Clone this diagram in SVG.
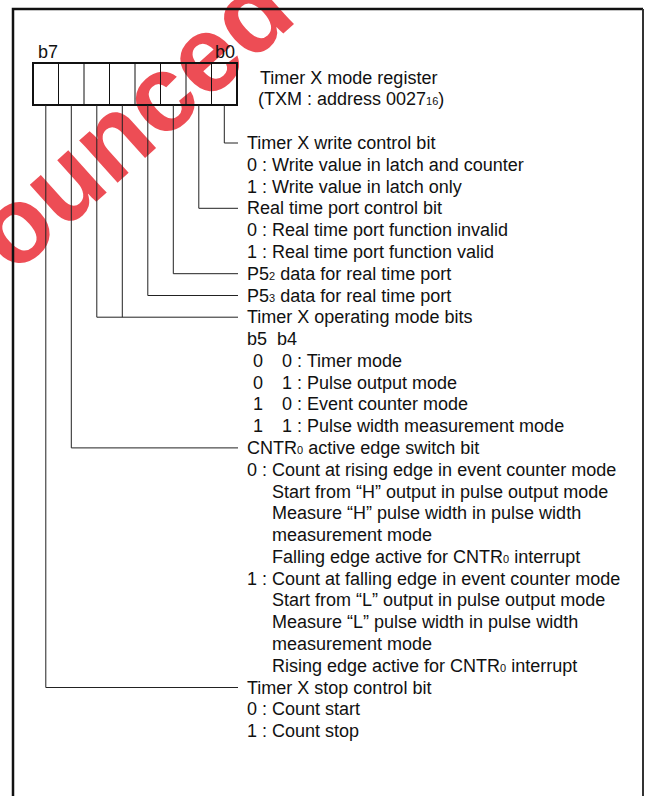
<svg xmlns="http://www.w3.org/2000/svg" width="645" height="796" viewBox="0 0 645 796">
<style>
text{font-family:"Liberation Sans",Arial,sans-serif;font-size:18px;fill:#111}
.sub{font-size:11px}
.wm{font-family:"Liberation Sans",Arial,sans-serif;font-weight:bold;font-size:108px;fill:#e8202a;fill-opacity:0.8}
.lead{fill:none;stroke:#222;stroke-width:1}
.cell{fill:none;stroke:#111;stroke-width:1}
</style>
<rect width="645" height="796" fill="#fff"/>
<g id="watermark"><text class="wm" transform="translate(14,276) rotate(-42)">ounced</text></g>
<g id="frame" fill="none" stroke="#111">
<path d="M13,796 V9 H643" stroke-width="2.5"/>
<path d="M643,9 V796" stroke-width="2" stroke="#333"/>
</g>
<g id="register">
<rect x="33" y="63" width="204" height="42" fill="none" stroke="#111" stroke-width="2"/>
<path class="cell" d="M58.5,63V105M84,63V105M109.5,63V105M135,63V105M160.5,63V105M186,63V105M211.5,63V105"/>
<text x="38" y="58">b7</text>
<text x="215" y="58">b0</text>
<text x="260" y="84">Timer X mode register</text>
<text x="258" y="105">(TXM : address 0027<tspan class="sub">16</tspan>)</text>
</g>
<g id="connectors" class="lead">
<path d="M224.3,105V143H238"/>
<path d="M198.8,105V208.3H238"/>
<path d="M173.3,105V273.7H238"/>
<path d="M147.8,105V295.5H238"/>
<path d="M122.3,105V317.2"/>
<path d="M96.8,105V317.2H238"/>
<path d="M71.3,105V447.9H238"/>
<path d="M45.8,105V687.5H238"/>
</g>
<g id="bit0">
<text x="247" y="149">Timer X write control bit</text>
<text x="247" y="170.8">0 : Write value in latch and counter</text>
<text x="247" y="192.6">1 : Write value in latch only</text>
</g>
<g id="bit1">
<text x="247" y="214.3">Real time port control bit</text>
<text x="247" y="236.1">0 : Real time port function invalid</text>
<text x="247" y="257.9">1 : Real time port function valid</text>
</g>
<g id="bit2"><text x="247" y="279.7">P5<tspan class="sub">2</tspan> data for real time port</text></g>
<g id="bit3"><text x="247" y="301.5">P5<tspan class="sub">3</tspan> data for real time port</text></g>
<g id="bit45">
<text x="247" y="323.2">Timer X operating mode bits</text>
<text x="247" y="345">b5</text><text x="277" y="345">b4</text>
<text x="253" y="366.8">0</text><text x="282" y="366.8">0 : Timer mode</text>
<text x="253" y="388.6">0</text><text x="282" y="388.6">1 : Pulse output mode</text>
<text x="253" y="410.4">1</text><text x="282" y="410.4">0 : Event counter mode</text>
<text x="253" y="432.1">1</text><text x="282" y="432.1">1 : Pulse width measurement mode</text>
</g>
<g id="bit6">
<text x="247" y="453.9">CNTR<tspan class="sub">0</tspan> active edge switch bit</text>
<text x="247" y="475.7">0 : Count at rising edge in event counter mode</text>
<text x="272" y="497.5">Start from “H” output in pulse output mode</text>
<text x="272" y="519.3">Measure “H” pulse width in pulse width</text>
<text x="272" y="541">measurement mode</text>
<text x="272" y="562.8">Falling edge active for CNTR<tspan class="sub">0</tspan> interrupt</text>
<text x="247" y="584.6">1 : Count at falling edge in event counter mode</text>
<text x="272" y="606.4">Start from “L” output in pulse output mode</text>
<text x="272" y="628.2">Measure “L” pulse width in pulse width</text>
<text x="272" y="649.9">measurement mode</text>
<text x="272" y="671.7">Rising edge active for CNTR<tspan class="sub">0</tspan> interrupt</text>
</g>
<g id="bit7">
<text x="247" y="693.5">Timer X stop control bit</text>
<text x="247" y="715.3">0 : Count start</text>
<text x="247" y="737.1">1 : Count stop</text>
</g>
</svg>
